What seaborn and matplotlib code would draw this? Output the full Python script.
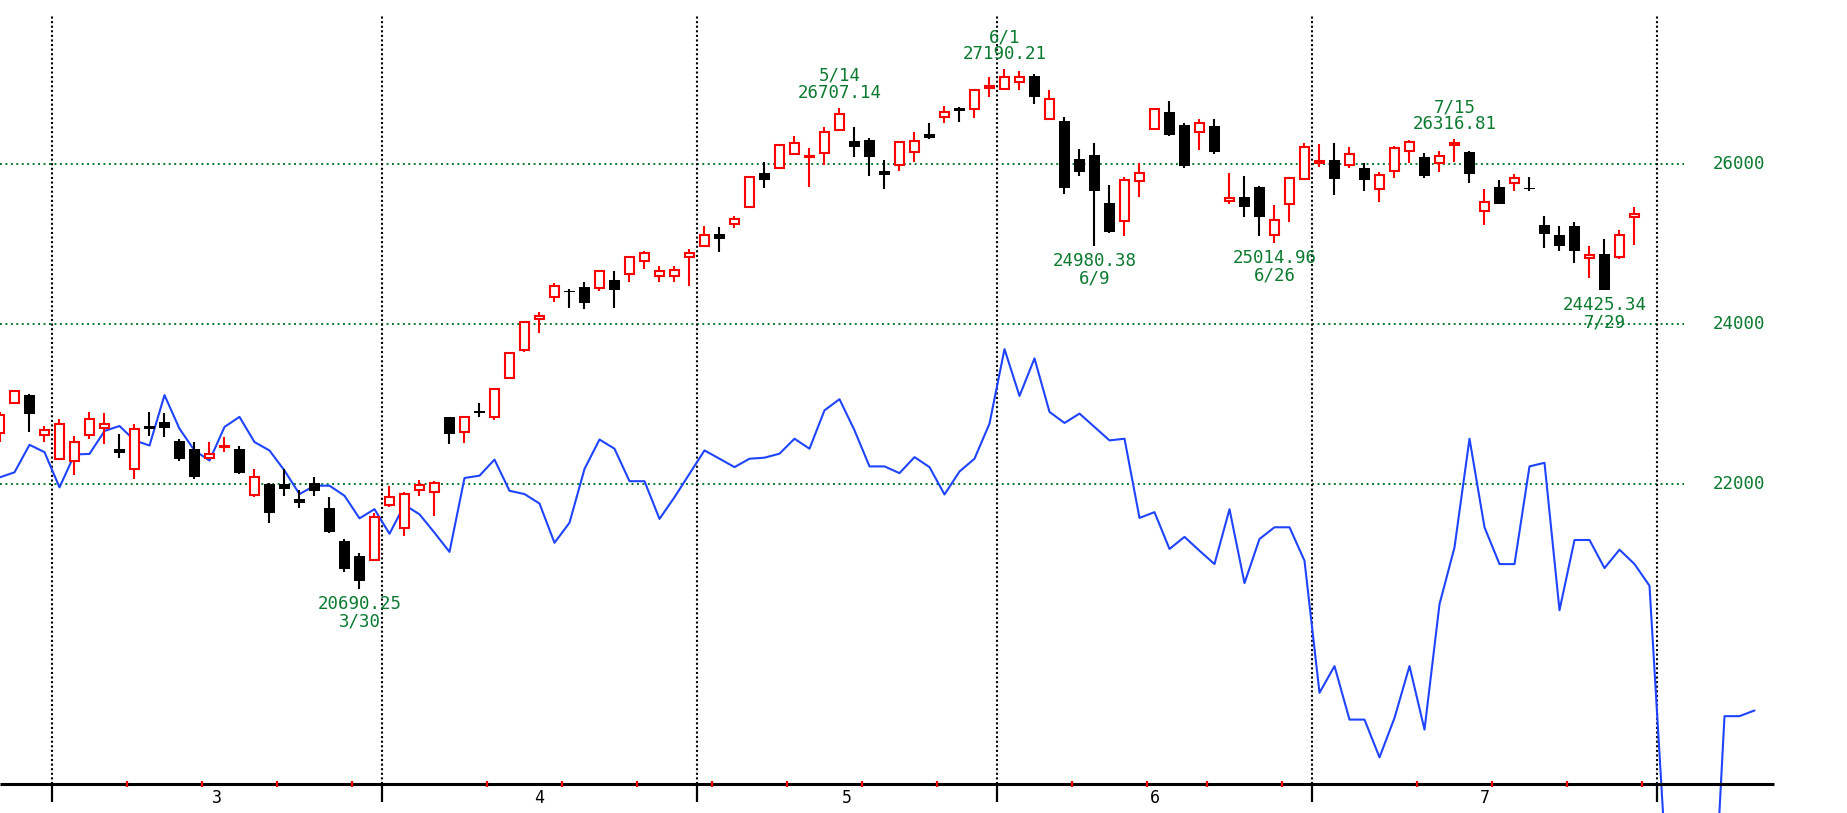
import matplotlib
matplotlib.use("Agg")
import numpy as np
import pandas as pd
import seaborn as sns
import matplotlib.pyplot as plt

# ---- daily candles (slot index 0 = 2/25) ----
opens = [22639, 23014, 23118, 22619, 22314, 22298, 22619, 22710, 22439, 22189,
         22735, 22777, 22544, 22439, 22335, 22464, 22439, 21864, 22010, 22010,
         21823, 22023, 21710, 21298, 21110, 21056, 21745, 21460, 21930, 21912,
         22839, 22652, 22923, 22848, 23327, 23681, 24064, 24348, 24423, 24464,
         24460, 24556, 24627, 24798, 24606, 24606, 24848, 24981, 25127, 25256,
         25473, 25889, 25952, 26131, 26089, 26148, 26431, 26298, 26306, 25923,
         25994, 26152, 26377, 26589, 26702, 26693, 26952, 26939, 27035, 27106,
         26569, 26548, 26064, 26119, 25514, 25298, 25794, 26444, 26660, 26494,
         26410, 26485, 25548, 25589, 25723, 25118, 25506, 25819, 26023, 26056,
         25994, 25960, 25694, 25923, 26169, 26098, 26014, 26248, 26152, 25418,
         25723, 25773, 25702, 25244, 25118, 25235, 24835, 24877, 24848, 25339]
highs = [22910, 23175, 23125, 22735, 22814, 22610, 22906, 22889, 22627, 22760,
         22906, 22889, 22573, 22535, 22531, 22589, 22481, 22193, 22015, 22193,
         21931, 22098, 21839, 21314, 21139, 21639, 21985, 21900, 22056, 22047,
         22845, 22856, 23023, 23195, 23645, 24035, 24160, 24523, 24439, 24535,
         24675, 24673, 24860, 24919, 24731, 24731, 24940, 25235, 25214, 25360,
         25855, 26035, 26250, 26360, 26202, 26473, 26707.14, 26473, 26327, 26056,
         26285, 26410, 26514, 26735, 26714, 26944, 27098, 27190.21, 27169, 27131,
         26931, 26589, 26189, 26264, 25744, 25848, 26023, 26700, 26794, 26523,
         26569, 26569, 25889, 25856, 25730, 25493, 25835, 26264, 26252, 26264,
         26214, 26014, 25910, 26235, 26306, 26148, 26173, 26316.81, 26173, 25694,
         25806, 25881, 25848, 25360, 25235, 25277, 24985, 25064, 25181, 25464]
lows = [22535, 23010, 22660, 22535, 22305, 22119, 22569, 22502, 22335, 22069,
        22610, 22589, 22293, 22069, 22327, 22402, 22135, 21839, 21523, 21860,
        21710, 21860, 21398, 20902, 20690.25, 21050, 21720, 21356, 21859, 21606,
        22502, 22523, 22839, 22806, 23320, 23660, 23889, 24285, 24202, 24189,
        24419, 24202, 24527, 24694, 24527, 24527, 24485, 24964, 24902, 25202,
        25465, 25710, 25945, 26125, 25723, 25994, 26425, 26089, 25860, 25693,
        25923, 26027, 26318, 26514, 26535, 26577, 26848, 26931, 26931, 26756,
        26556, 25631, 25856, 24980.38, 25139, 25110, 25598, 26440, 26360, 25952,
        26181, 26131, 25506, 25348, 25106, 25014.96, 25277, 25806, 25964, 25619,
        25952, 25673, 25527, 25827, 26014, 25827, 25902, 26027, 25764, 25244,
        25500, 25673, 25673, 24952, 24923, 24773, 24585, 24425.34, 24814, 24994]
closes = [22868, 23168, 22877, 22681, 22756, 22527, 22814, 22760, 22398, 22693,
          22693, 22710, 22314, 22098, 22381, 22485, 22139, 22098, 21639, 21939,
          21773, 21918, 21410, 20939, 20793, 21589, 21846, 21880, 21992, 22013,
          22631, 22839, 22898, 23189, 23639, 24031, 24110, 24485, 24402, 24264,
          24669, 24431, 24839, 24898, 24664, 24685, 24898, 25118, 25069, 25318,
          25848, 25806, 26244, 26273, 26106, 26410, 26631, 26214, 26089, 25869,
          26277, 26298, 26327, 26660, 26669, 26931, 26981, 27089, 27089, 26848,
          26819, 25702, 25910, 25669, 25160, 25806, 25889, 26694, 26368, 25985,
          26523, 26152, 25585, 25464, 25348, 25306, 25827, 26223, 26044, 25819,
          26131, 25806, 25869, 26210, 26277, 25860, 26110, 26264, 25881, 25535,
          25506, 25827, 25689, 25127, 24981, 24923, 24869, 24431, 25118, 25377]

# ---- blue comparison line (same price scale, runs 8 slots past the candles) ----
blue = [22088, 22152, 22496, 22404, 21964, 22375, 22382, 22669, 22731, 22551,
        22487, 23117, 22697, 22425, 22299, 22719, 22845, 22530, 22425, 22174,
        21880, 21985, 21985, 21859, 21577, 21691, 21384, 21745, 21627, 21397,
        21157, 22081, 22110, 22311, 21921, 21880, 21762, 21271, 21522, 22194,
        22562, 22447, 22041, 22041, 21570, 21841, 22134, 22426, 22322, 22217,
        22322, 22335, 22385, 22572, 22447, 22927, 23066, 22677, 22226, 22226,
        22142, 22342, 22217, 21875, 22162, 22322, 22761, 23692, 23107, 23576,
        22907, 22769, 22886, 22719, 22551, 22572, 21582, 21654, 21194, 21345,
        21172, 21005, 21691, 20767, 21319, 21465, 21465, 21047, 19396, 19730,
        19061, 19061, 18589, 19082, 19730, 18936, 20503, 21214, 22572, 21465,
        21005, 21005, 22226, 22271, 20428, 21306, 21306, 20955, 21185, 21005,
        20734, 17581, 15556, 15556, 15556, 19104, 19104, 19175]

month_bounds = [3.5, 25.5, 46.5, 66.5, 87.5, 110.5]
month_labels = ["3", "4", "5", "6", "7"]
week_ticks = [8.5, 13.5, 18.5, 23.5, 32.5, 37.5, 42.5, 47.5, 52.5, 57.5, 62.5,
              71.5, 76.5, 80.5, 85.5, 94.5, 99.5, 104.5, 109.5]
grid_levels = [26000, 24000, 22000]

mark_idx = [24, 56, 67, 73, 85, 97, 107]
mark_date = ["3/30", "5/14", "6/1", "6/9", "6/26", "7/15", "7/29"]
mark_val = [20690.25, 26707.14, 27190.21, 24980.38, 25014.96, 26316.81, 24425.34]
mark_kind = ["low", "high", "high", "low", "low", "high", "low"]

df = pd.DataFrame({"o": opens, "h": highs, "l": lows, "c": closes})
df["i"] = np.arange(len(df))
up = df[df.c >= df.o]
dn = df[df.c < df.o]
bl = pd.DataFrame({"i": np.arange(len(blue)), "v": blue})

# ---- layout ----
W, H = 1847, 813
sns.set_theme(style="white")
plt.rcParams["font.family"] = ["DejaVu Sans Mono", "DejaVu Sans"]
GREEN = "#0b7a30"
RED = "#ff0000"
BLUE = "#1f44ff"

fig = plt.figure(figsize=(W / 100, H / 100), dpi=100)
ax = fig.add_axes([0, 0, 1, 1])
ax.set_xlim(0.5 / 15, (W + 0.5) / 15)
ax.set_ylim(28056 - H * 12.5, 28056)
ax.axis("off")


def fy(px):
    return 1 - px / H


xt = ax.get_xaxis_transform()

# grid
ax.hlines(grid_levels, 0.03, 112.3, colors=GREEN, linewidth=1.4,
          linestyles=(0, (1, 1.8)), zorder=1)
ax.vlines(month_bounds, fy(784), fy(15), colors="black", linewidth=1.5,
          linestyles=(0, (1, 1.2)), transform=xt, zorder=1)

# blue line
sns.lineplot(data=bl, x="i", y="v", ax=ax, color=BLUE, linewidth=1.5,
             legend=False, zorder=2)

# candles
ax.vlines(up.i, up.l, up.h, colors=RED, linewidth=1.5, zorder=3)
ax.bar(up.i, (up.c - up.o).clip(lower=8), bottom=up.o, width=0.6,
       color="white", edgecolor=RED, linewidth=1.5, zorder=4)
ax.vlines(dn.i, dn.l, dn.h, colors="black", linewidth=1.5, zorder=3)
ax.bar(dn.i, (dn.o - dn.c).clip(lower=20), bottom=dn.c, width=0.74,
       color="black", linewidth=0, zorder=4)

# high / low annotations
for i, d, v, k in zip(mark_idx, mark_date, mark_val, mark_kind):
    s = 1 if k == "high" else -1
    ax.annotate(f"{v:.2f}", (i, v), xytext=(0, 15 * s), textcoords="offset pixels",
                ha="center", va="center", color=GREEN, fontsize=12.5, zorder=5)
    ax.annotate(d, (i, v), xytext=(0, 32 * s), textcoords="offset pixels",
                ha="center", va="center", color=GREEN, fontsize=12.5, zorder=5)

# right price labels
for lv in grid_levels:
    ax.text(116.0, lv, str(lv), ha="center", va="center", color=GREEN, fontsize=12.5)

# bottom date axis
ax.plot([0.03, 118.3], [fy(784), fy(784)], color="black", linewidth=2.2,
        transform=xt, solid_capstyle="butt", zorder=6)
ax.vlines(month_bounds, fy(802), fy(784), colors="black", linewidth=1.6,
          transform=xt, zorder=6)
ax.vlines(week_ticks, fy(787), fy(781), colors=RED, linewidth=1.6,
          transform=xt, zorder=7)
for a, b, lab in zip(month_bounds[:-1], month_bounds[1:], month_labels):
    ax.text((a + b) / 2, fy(798), lab, transform=xt, ha="center", va="center",
            color="black", fontsize=12)

fig.savefig("out.png", dpi=100, facecolor="white")
